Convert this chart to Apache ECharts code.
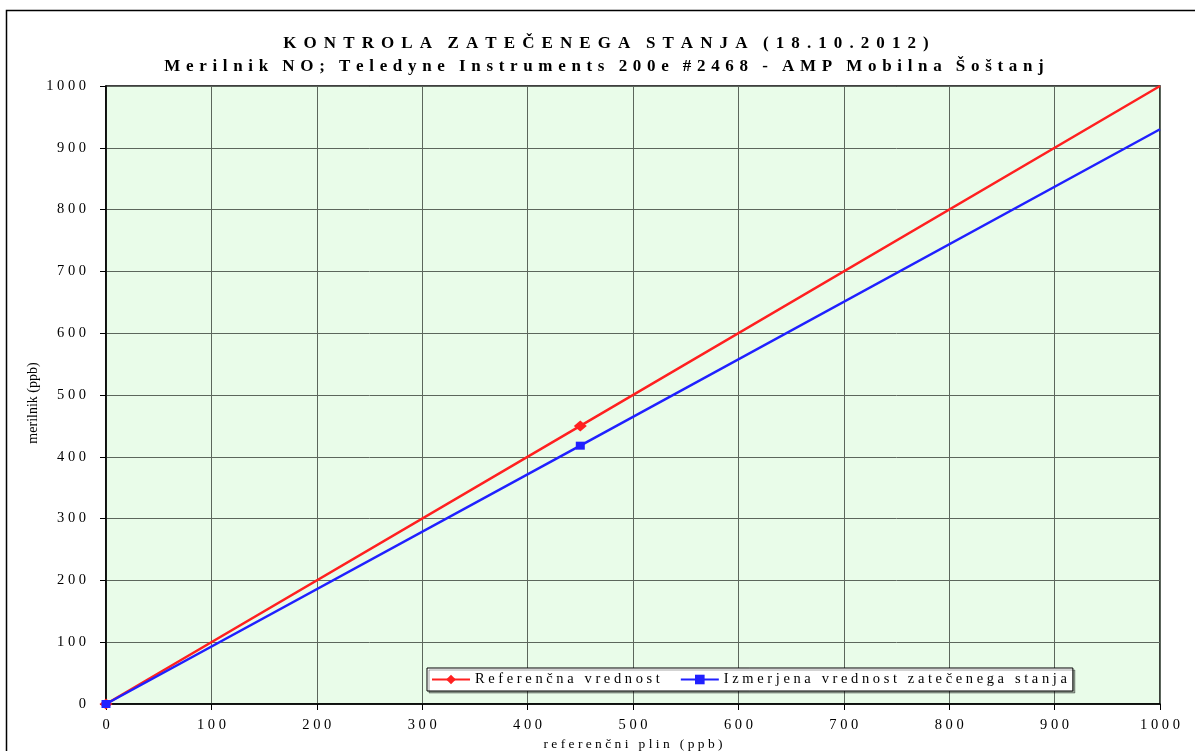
<!DOCTYPE html>
<html>
<head>
<meta charset="utf-8">
<script src="https://cdn.jsdelivr.net/npm/echarts@6/dist/echarts.min.js"></script>
<style>
  html, body { margin: 0; padding: 0; background: #ffffff; }
  #chart { width: 1195px; height: 751px; }
</style>
</head>
<body>
<div id="chart"></div>
<script>
// Titles and axis names
const titleMain = 'KONTROLA ZATEČENEGA STANJA (18.10.2012)';
const titleSub = 'Merilnik NO; Teledyne Instruments 200e #2468 - AMP Mobilna Šoštanj';
const xAxisName = 'referenčni plin (ppb)';
const yAxisName = 'merilnik (ppb)';

// Series names
const refName = 'Referenčna vrednost';
const measName = 'Izmerjena vrednost zatečenega stanja';

// Reference gas concentrations (x) with reference and measured values (y)
const refX = [0, 450, 1000];
const refY = [0, 450, 1000];
const measX = [0, 450, 1000];
const measY = [0, 418, 930];
// Points that carry a marker (the line end at 1000 does not)
const markedPoints = [true, true, false];

// Letter-spaced rendering of a string
function spaced(s, sep, wordSep) {
  return s.split(' ').map(w => Array.from(w).join(sep)).join(wordSep);
}

function toData(xs, ys) {
  return xs.map((x, i) => ({
    value: [x, ys[i]],
    symbolSize: markedPoints[i] ? undefined : 0
  }));
}

const serif = '"Liberation Serif", "Times New Roman", serif';
const chart = echarts.init(document.getElementById('chart'), null, { renderer: 'canvas' });

const option = {
  backgroundColor: '#ffffff',
  animation: false,
  textStyle: { fontFamily: serif },
  graphic: [
    {
      type: 'rect',
      shape: { x: 6.5, y: 10.5, width: 1200, height: 800 },
      style: { fill: null, stroke: '#000', lineWidth: 1.5 },
      silent: true
    },
    {
      type: 'text',
      x: 606, y: 44,
      style: {
        text: spaced(titleMain, ' \u2006', ' \u2006  '),
        font: 'bold 17px ' + serif,
        fill: '#000',
        textAlign: 'center',
        textVerticalAlign: 'middle'
      }
    },
    {
      type: 'text',
      x: 604, y: 67,
      style: {
        text: spaced(titleSub, '\u2004', '\u2004  '),
        font: 'bold 17px ' + serif,
        fill: '#000',
        textAlign: 'center',
        textVerticalAlign: 'middle'
      }
    },
    {
      type: 'text',
      x: 33, y: 403,
      rotation: Math.PI / 2,
      style: {
        text: yAxisName,
        font: '14px ' + serif,
        fill: '#000',
        textAlign: 'center',
        textVerticalAlign: 'middle'
      }
    }
  ],
  grid: {
    left: 106, right: 35, top: 86, bottom: 47,
    containLabel: false,
    outerBoundsMode: 'none',
    show: true,
    backgroundColor: '#e9fce9',
    borderColor: '#000',
    borderWidth: 1.5
  },
  legend: {
    left: 427,
    top: 668,
    itemWidth: 38,
    itemHeight: 12,
    itemGap: 20,
    padding: [4, 6, 4, 4],
    backgroundColor: '#ffffff',
    borderColor: '#000',
    borderWidth: 1,
    shadowColor: 'rgba(0,0,0,0.35)',
    shadowOffsetX: 2,
    shadowOffsetY: 2,
    shadowBlur: 0,
    textStyle: { fontFamily: serif, fontSize: 14.5, color: '#000' },
    formatter: name => spaced(name, ' ', '   '),
    data: [refName, measName]
  },
  xAxis: {
    type: 'value',
    min: 0, max: 1000, interval: 100,
    name: spaced(xAxisName, ' ', '   '),
    nameLocation: 'middle',
    nameGap: 32,
    nameTextStyle: { fontFamily: serif, fontSize: 13.5, color: '#000' },
    axisLine: { show: true, onZero: false, lineStyle: { color: '#000', width: 1.5 } },
    axisTick: { show: true, length: 6, lineStyle: { color: '#000' } },
    axisLabel: {
      margin: 14,
      fontFamily: serif, fontSize: 14.5, color: '#000',
      formatter: v => spaced(String(v), ' ', ' ')
    },
    splitLine: { show: true, lineStyle: { color: '#5c665c', width: 1 } }
  },
  yAxis: {
    type: 'value',
    min: 0, max: 1000, interval: 100,
    axisLine: { show: true, onZero: false, lineStyle: { color: '#000', width: 1.5 } },
    axisTick: { show: true, length: 6, lineStyle: { color: '#000' } },
    axisLabel: {
      margin: 20,
      fontFamily: serif, fontSize: 14.5, color: '#000',
      formatter: v => spaced(String(v), ' ', ' ')
    },
    splitLine: { show: true, lineStyle: { color: '#5c665c', width: 1 } }
  },
  series: [
    {
      name: refName,
      type: 'line',
      data: toData(refX, refY),
      symbol: 'diamond',
      symbolSize: [13, 11],
      showAllSymbol: true,
      lineStyle: { color: '#ff2020', width: 2.5 },
      itemStyle: { color: '#ff2020' },
      z: 3
    },
    {
      name: measName,
      type: 'line',
      data: toData(measX, measY),
      symbol: 'rect',
      symbolSize: [9, 8],
      showAllSymbol: true,
      lineStyle: { color: '#2020ff', width: 2.5 },
      itemStyle: { color: '#2020ff' },
      z: 4
    }
  ]
};

chart.setOption(option);
</script>
</body>
</html>
